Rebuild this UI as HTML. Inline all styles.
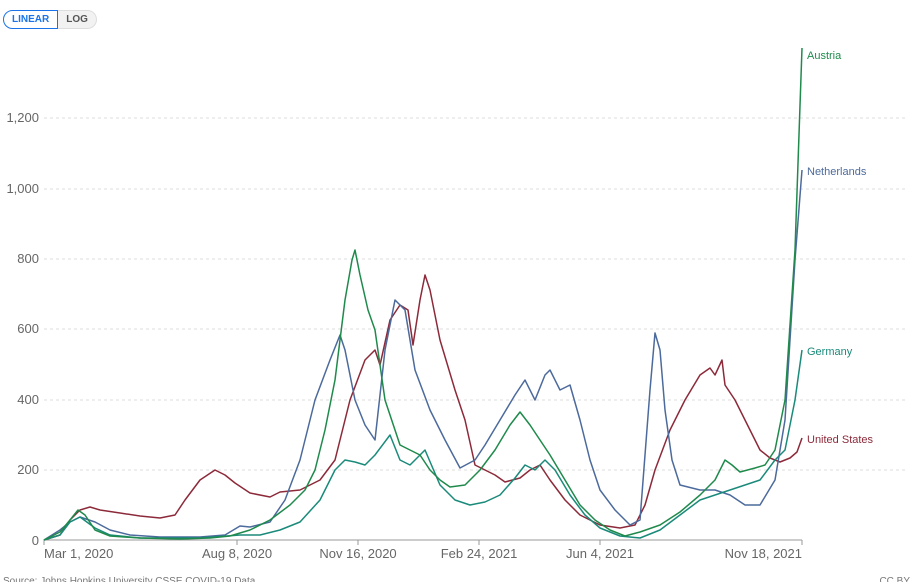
<!DOCTYPE html>
<html><head><meta charset="utf-8"><style>
body{margin:0;background:#fff;font-family:"Liberation Sans",sans-serif;}
.btns{position:absolute;left:3px;top:10px;height:19px;display:flex;font-size:10px;font-weight:bold}
.b1{border:1px solid #1a73e8;color:#1a73e8;border-radius:10px 0 0 10px;padding:0 8px;line-height:17px;background:#fff}
.b2{border:1px solid #ddd;border-left:none;color:#555;border-radius:0 10px 10px 0;padding:0 8px;line-height:17px;background:#f2f2f2}
</style></head><body>
<div class="btns"><div class="b1">LINEAR</div><div class="b2">LOG</div></div>
<svg width="917" height="582" style="position:absolute;left:0;top:0;z-index:-1" font-family="Liberation Sans, sans-serif">
<g stroke="#ddd" stroke-dasharray="3,3">
<line x1="44" x2="905" y1="118" y2="118"/><line x1="44" x2="905" y1="189" y2="189"/><line x1="44" x2="905" y1="259" y2="259"/><line x1="44" x2="905" y1="329" y2="329"/><line x1="44" x2="905" y1="400" y2="400"/><line x1="44" x2="905" y1="470" y2="470"/>
</g>
<line x1="44" x2="802" y1="540" y2="540" stroke="#999"/>
<g font-size="13" fill="#666" text-anchor="end">
<text x="39" y="122">1,200</text><text x="39" y="193">1,000</text><text x="39" y="263">800</text><text x="39" y="333">600</text><text x="39" y="404">400</text><text x="39" y="474">200</text><text x="39" y="545">0</text>
</g>
<g stroke="#999"><line x1="44" x2="44" y1="540" y2="545"/><line x1="237" x2="237" y1="540" y2="545"/><line x1="358" x2="358" y1="540" y2="545"/><line x1="479" x2="479" y1="540" y2="545"/><line x1="600" x2="600" y1="540" y2="545"/><line x1="802" x2="802" y1="540" y2="545"/></g>
<g font-size="13" fill="#666" text-anchor="middle">
<text x="44" y="558" text-anchor="start">Mar 1, 2020</text><text x="237" y="558">Aug 8, 2020</text><text x="358" y="558">Nov 16, 2020</text><text x="479" y="558">Feb 24, 2021</text><text x="600" y="558">Jun 4, 2021</text><text x="802" y="558" text-anchor="end">Nov 18, 2021</text>
</g>
<text x="3" y="584" font-size="10" fill="#777">Source: Johns Hopkins University CSSE COVID-19 Data</text>
<text x="910" y="584" font-size="10" fill="#777" text-anchor="end">CC BY</text>
<g fill="none" stroke-width="1.5" stroke-linejoin="round">
<polyline stroke="#8c2a3a" points="44,540 60,535 70,520 80,510 90,507 100,510 120,513 140,516 160,518 175,515 185,500 200,480 215,470 225,475 235,483 250,493 270,497 280,492 300,490 320,480 335,460 350,400 365,360 375,350 380,365 390,320 400,305 408,310 413,345 420,300 425,275 430,290 440,340 455,390 465,420 475,465 485,470 495,475 505,482 520,478 530,470 540,465 550,480 565,500 580,515 600,525 620,528 635,525 645,505 655,470 670,430 685,400 700,375 710,368 715,375 722,360 725,385 735,400 750,430 760,450 770,458 780,462 790,458 797,452 802,438"/>
<polyline stroke="#4c6a9c" points="44,540 60,530 70,522 80,517 95,522 110,530 130,535 160,537 200,537 225,535 240,526 250,527 270,522 285,500 300,460 315,400 330,360 340,335 345,350 355,400 365,425 375,440 385,350 395,300 405,310 415,370 430,410 445,440 460,468 475,460 485,445 500,420 515,395 525,380 535,400 545,375 550,370 560,390 570,385 580,420 590,460 600,490 615,510 630,525 640,520 650,390 655,333 660,350 665,410 672,460 680,485 700,490 715,490 730,495 745,505 760,505 775,480 785,420 795,260 802,170"/>
<polyline stroke="#1a8a7a" points="44,540 60,535 70,522 80,517 95,528 110,535 140,538 200,538 240,535 260,535 280,530 300,522 320,500 335,470 345,460 355,462 365,465 375,455 390,435 400,460 410,465 425,450 440,485 455,500 470,505 485,502 500,495 515,478 525,465 535,470 545,460 555,470 570,495 585,515 600,528 620,536 640,538 660,530 680,515 700,500 715,495 730,490 745,485 760,480 775,460 785,450 795,400 802,350"/>
<polyline stroke="#1f8a4c" points="44,540 60,532 70,520 78,510 85,515 95,530 110,536 140,538 180,539 210,538 230,536 250,530 270,520 290,505 305,490 315,470 325,430 335,380 345,300 352,260 355,250 360,275 368,310 375,330 385,400 395,430 400,445 410,450 420,455 430,470 440,480 450,487 465,485 480,470 495,450 510,425 520,412 530,425 540,440 550,455 565,480 580,505 595,520 610,530 625,536 640,532 660,525 680,512 700,495 715,480 725,460 732,465 740,472 755,468 765,465 775,450 785,400 795,250 802,48"/>
</g>
<g font-size="11">
<text x="807" y="59" fill="#1f8a4c">Austria</text>
<text x="807" y="175" fill="#4c6a9c">Netherlands</text>
<text x="807" y="355" fill="#1a8a7a">Germany</text>
<text x="807" y="443" fill="#8c2a3a">United States</text>
</g>
</svg>
</body></html>
